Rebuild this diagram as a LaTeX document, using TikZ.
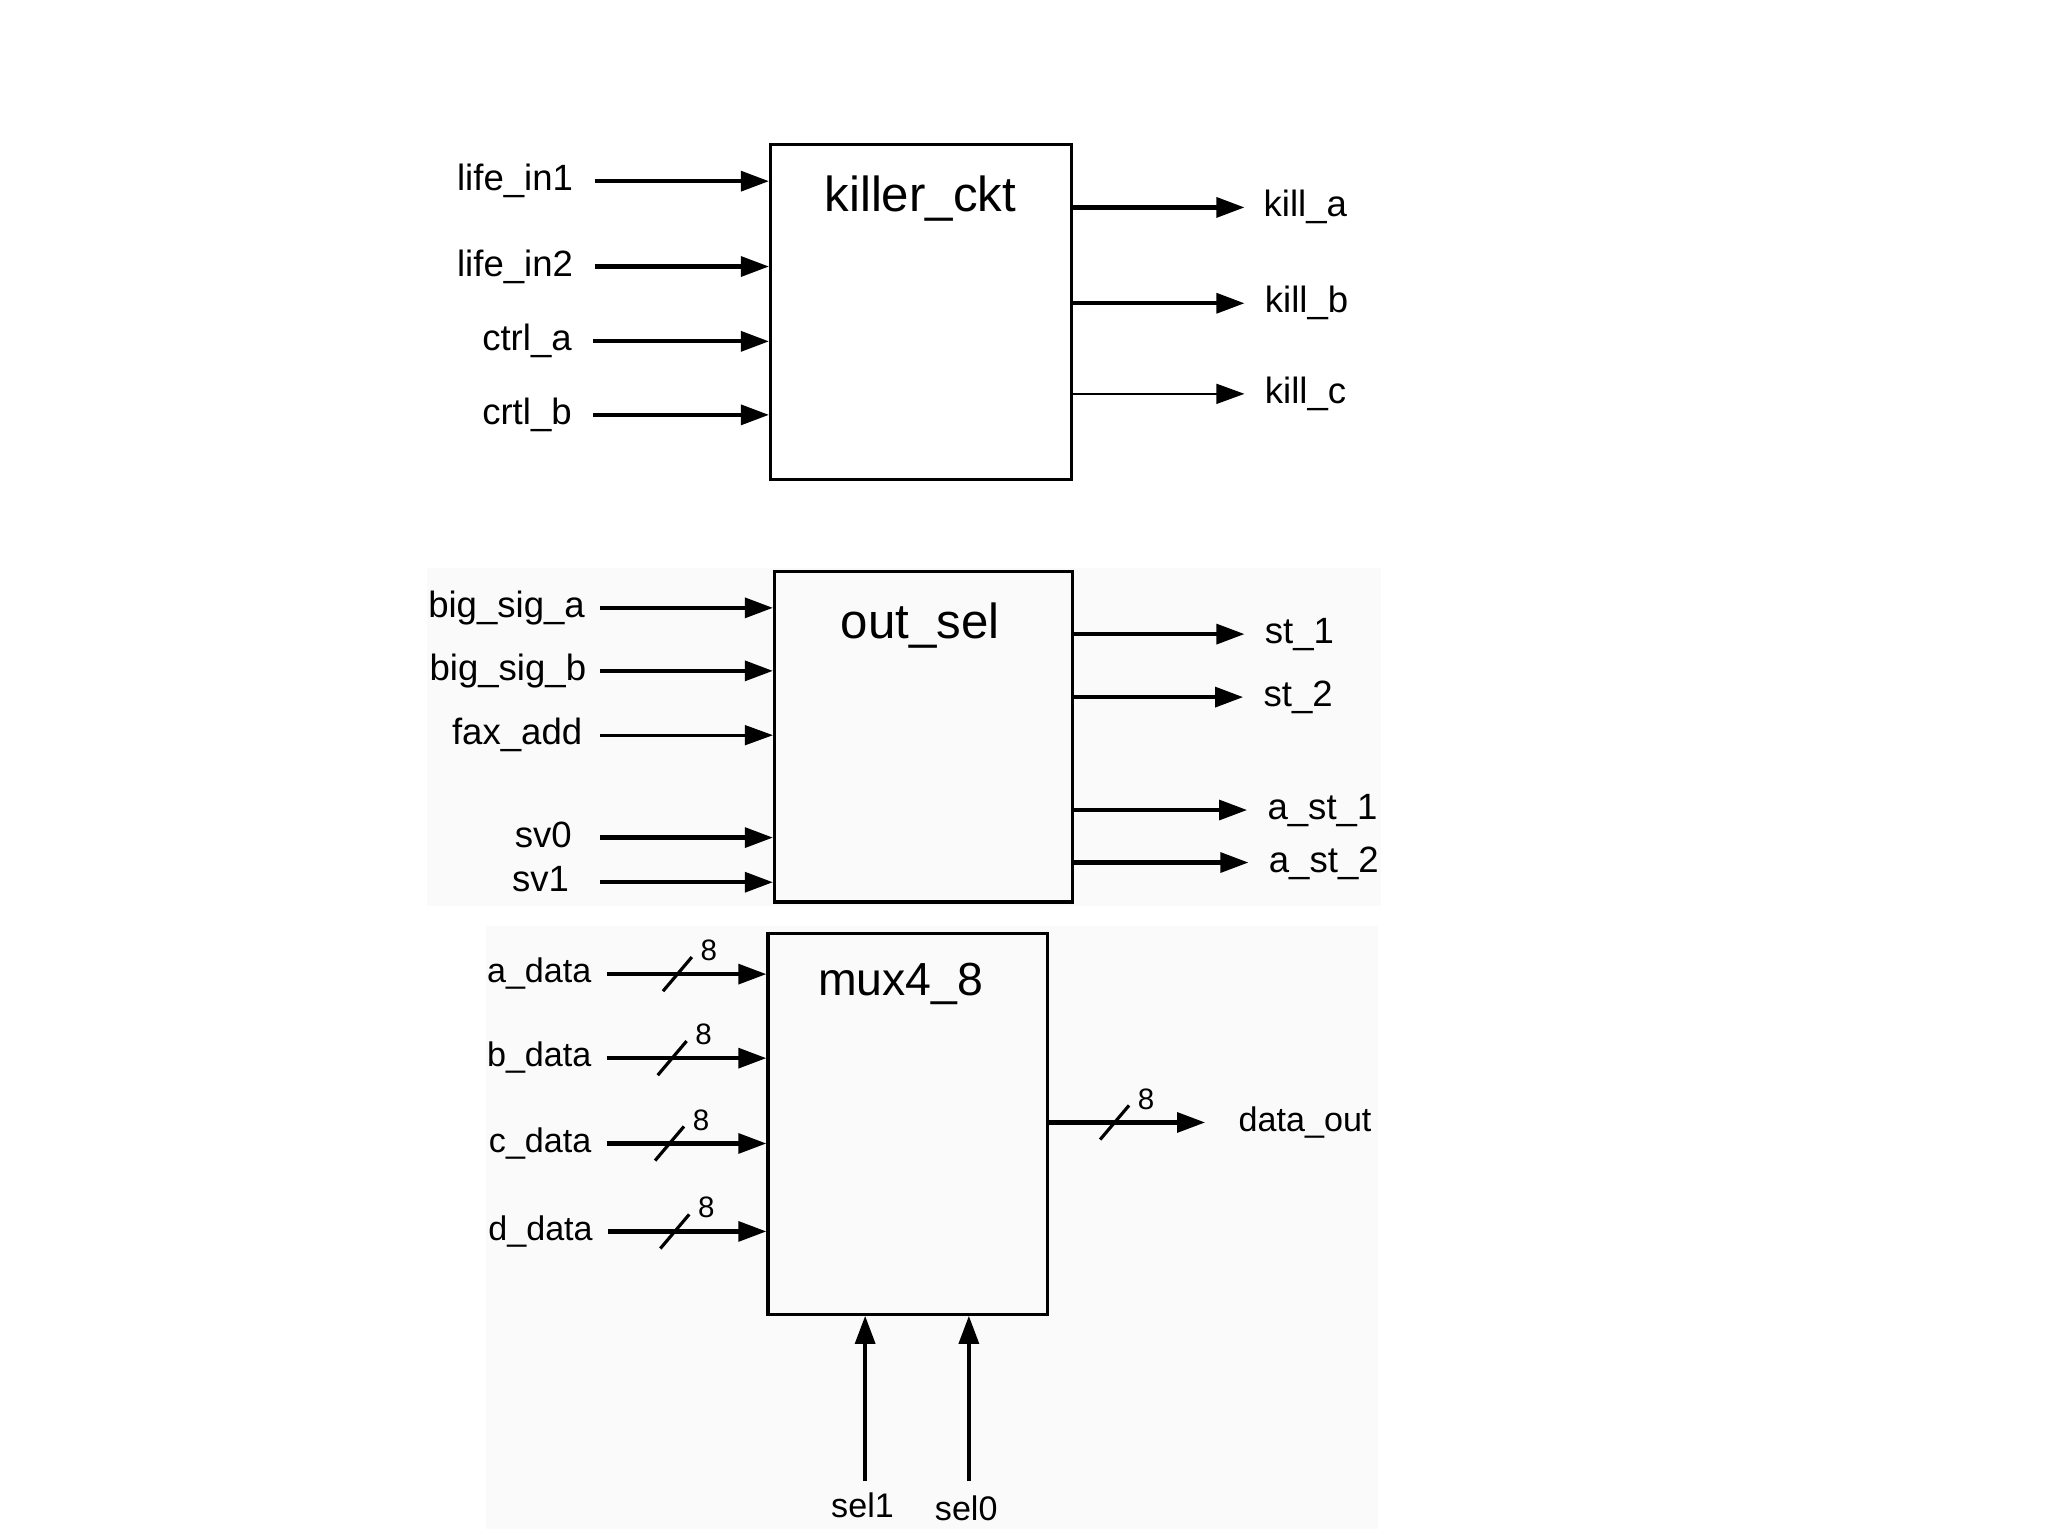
\documentclass[tikz,border=0pt]{standalone}
\usepackage{fontspec}
\setmainfont{Liberation Sans}
\usetikzlibrary{arrows.meta,fit,calc}
\tikzset{
  arr/.style={line width=1.2pt,-{Triangle[length=8pt,width=5.6pt]}},
  thinarr/.style={line width=0.75pt,-{Triangle[length=8pt,width=5.6pt]}},
  box/.style={draw,line width=0.9pt,inner sep=0pt},
  title/.style={font=\fontsize{14}{16}\selectfont,inner sep=0pt,anchor=base},
  lbl/.style={font=\fontsize{10.4}{12}\selectfont,text height=7.5pt,text depth=2.1pt,inner sep=0pt},
  dlbl/.style={font=\fontsize{9.7}{12}\selectfont,text height=7pt,text depth=2pt,inner sep=0pt},
  bus/.style={font=\fontsize{8.4}{10}\selectfont,inner sep=0pt},
  slash/.style={line width=0.9pt},
  bg/.style={fill=black!2,draw=none}
}
\begin{document}
\begin{tikzpicture}[x=0.013128cm,y=-0.013128cm]
\useasboundingbox (0,0) rectangle (1560,1170);
\fill[bg] (325,433) rectangle (1052,690);
\fill[bg] (370,705) rectangle (1050,1165);

% ---------- killer_ckt ----------
\node[box,fit={(587,110) (816,365)}] (kc) {};
\node[title] (kct) at (701,161) {killer\_ckt};
\node[lbl,anchor=east] (li1) at (437,138) {life\_in1};
\node[lbl,anchor=east] (li2) at (437,203) {life\_in2};
\node[lbl,anchor=east] (ca) at (436,260) {ctrl\_a};
\node[lbl,anchor=east] (cb) at (436,316) {crtl\_b};
\foreach \n in {li1,li2,ca,cb}
  \draw[arr] ($(\n.east)+(16,0)$) -- (kc.west |- \n.east);
\node[lbl,anchor=west] (ka) at (962,158) {kill\_a};
\node[lbl,anchor=west] (kb) at (963,231) {kill\_b};
\node[lbl,anchor=west] (kk) at (963,300) {kill\_c};
\draw[arr] (kc.east |- ka.west) -- ($(ka.west)+(-14,0)$);
\draw[arr] (kc.east |- kb.west) -- ($(kb.west)+(-15,0)$);
\draw[thinarr] (kc.east |- kk.west) -- ($(kk.west)+(-15,0)$);

% ---------- out_sel ----------
\node[box,fit={(590,435) (817,687)}] (os) {};
\node[title] (ost) at (701,486) {out\_sel};
\node[lbl,anchor=east] (bsa) at (446,463) {big\_sig\_a};
\node[lbl,anchor=east] (bsb) at (447,511) {big\_sig\_b};
\node[lbl,anchor=east] (fa) at (444,560) {fax\_add};
\node[lbl,anchor=east] (s0) at (436,638) {sv0};
\node[lbl,anchor=east] (s1) at (434,672) {sv1};
\draw[arr] ($(bsa.east)+(11,0)$) -- (os.west |- bsa.east);
\draw[arr] ($(bsb.east)+(10,0)$) -- (os.west |- bsb.east);
\draw[thinarr] ($(fa.east)+(13,0)$) -- (os.west |- fa.east);
\draw[arr] ($(s0.east)+(21,0)$) -- (os.west |- s0.east);
\draw[arr] ($(s1.east)+(23,0)$) -- (os.west |- s1.east);
\node[lbl,anchor=west] (st1) at (963,483) {st\_1};
\node[lbl,anchor=west] (st2) at (962,531) {st\_2};
\node[lbl,anchor=west] (ast1) at (965,617) {a\_st\_1};
\node[lbl,anchor=west] (ast2) at (966,657) {a\_st\_2};
\foreach \n in {st1,st2,ast1,ast2}
  \draw[arr] (os.east |- \n.west) -- ($(\n.west)+(-15,0)$);

% ---------- mux4_8 ----------
\node[box,fit={(585,711) (798,1001)}] (mx) {};
\node[font=\fontsize{13.2}{16}\selectfont,inner sep=0pt,anchor=base] (mxt) at (686,758) {mux4\_8};
\node[dlbl,anchor=east] (ad) at (451,742) {a\_data};
\node[dlbl,anchor=east] (bd) at (451,806) {b\_data};
\node[dlbl,anchor=east] (cd) at (451,871) {c\_data};
\node[dlbl,anchor=east] (dd) at (452,938) {d\_data};
\foreach \n/\sx in {ad/516,bd/512,cd/510,dd/514}{
  \draw[arr] ($(\n.east)+(11,0)$) -- (mx.west |- \n.east);
  \coordinate (sl\n) at (\n.east -| \sx,0);
  \draw[slash] ($(sl\n)+(-11,13)$) -- ($(sl\n)+(11,-13)$);
  \node[bus] at ($(sl\n)+(24,-18)$) {8};
}
\node[dlbl,anchor=west] (dout) at (943,855) {data\_out};
\draw[arr] (mx.east |- dout.west) -- ($(dout.west)+(-25,0)$);
\coordinate (slout) at (849,0 |- dout.west);
\draw[slash] ($(slout)+(-11,13)$) -- ($(slout)+(11,-13)$);
\node[bus] at ($(slout)+(24,-18)$) {8};

\node[dlbl,anchor=base] (sl1) at (657,1156) {sel1};
\node[dlbl,anchor=base] (sl0) at (736,1158) {sel0};
\coordinate (sl1s) at (659,1128);
\coordinate (sl0s) at (738,1128);
\draw[arr] (sl1s) -- (mx.south -| sl1s);
\draw[arr] (sl0s) -- (mx.south -| sl0s);
\end{tikzpicture}
\end{document}
